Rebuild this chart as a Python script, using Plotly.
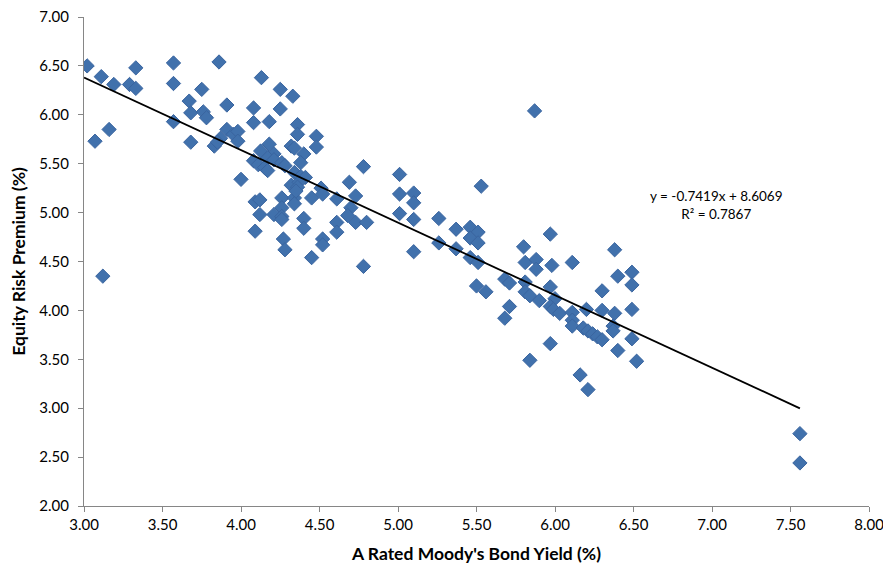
import plotly.graph_objects as go

# A Rated Moody's bond yield (%) and equity risk premium (%)
bond_yield = [
    3.02, 3.11, 3.19, 3.33, 3.29, 3.33, 3.07, 3.16, 3.12,
    3.57, 3.57, 3.57, 3.68, 3.67, 3.68, 3.75, 3.76, 3.78, 3.86, 3.91, 3.91, 3.95, 3.98, 3.98, 3.87, 3.83, 3.85, 4.00,
    4.08, 4.08, 4.13, 4.18, 4.25, 4.25, 4.33, 4.36, 4.36, 4.48, 4.48, 4.18, 4.32, 4.34, 4.125, 4.21, 4.40, 4.17, 4.21,
    4.38, 4.08, 4.11, 4.15, 4.17, 4.26, 4.28, 4.34, 4.38, 4.41, 4.32, 4.37, 4.36, 4.51,
    4.09, 4.12, 4.12, 4.09, 4.26, 4.26, 4.21, 4.26, 4.26, 4.34, 4.35, 4.34, 4.45, 4.52, 4.61, 4.40, 4.40, 4.61, 4.61,
    4.27, 4.28, 4.52, 4.52, 4.45,
    4.78, 4.69, 4.73, 4.70, 4.68, 4.73, 4.80, 5.01, 5.01, 5.01, 5.10, 5.10, 5.10, 5.10, 4.78,
    5.53, 5.26, 5.37, 5.46, 5.51, 5.46, 5.51, 5.26, 5.37, 5.46, 5.51, 5.50, 5.56,
    5.87, 5.80, 5.97, 5.81, 5.88, 5.88, 5.98, 6.11, 6.38, 6.40, 6.49, 6.49, 6.30, 5.68, 5.71, 5.81, 5.81, 5.84, 5.90,
    5.97, 6.00, 5.97, 5.99, 6.03, 5.71, 5.68, 6.11, 6.11, 6.11, 6.20, 6.30, 6.38, 6.49, 6.18, 6.21, 6.24, 6.27, 6.30,
    6.37, 6.37, 6.49, 6.40, 6.52, 5.97, 5.84, 6.16, 6.21,
    7.56, 7.56,
]
equity_premium = [
    6.50, 6.39, 6.31, 6.48, 6.31, 6.27, 5.73, 5.85, 4.35,
    6.53, 6.32, 5.93, 5.72, 6.14, 6.02, 6.26, 6.03, 5.97, 6.54, 6.10, 5.85, 5.80, 5.83, 5.73, 5.76, 5.68, 5.72, 5.34,
    6.07, 5.92, 6.38, 5.93, 6.26, 6.06, 6.19, 5.90, 5.80, 5.78, 5.67, 5.70, 5.68, 5.66, 5.63, 5.60, 5.60, 5.56, 5.54,
    5.51, 5.53, 5.49, 5.46, 5.43, 5.51, 5.48, 5.41, 5.37, 5.36, 5.28, 5.31, 5.26, 5.25,
    5.11, 5.13, 4.98, 4.81, 5.15, 5.05, 4.98, 4.96, 4.93, 5.15, 5.22, 5.09, 5.15, 5.19, 5.14, 4.94, 4.84, 4.90, 4.80,
    4.73, 4.62, 4.73, 4.67, 4.54,
    5.47, 5.31, 5.17, 5.05, 4.97, 4.90, 4.90, 5.39, 5.19, 4.99, 5.20, 5.10, 4.93, 4.60, 4.45,
    5.27, 4.94, 4.83, 4.85, 4.80, 4.74, 4.69, 4.69, 4.63, 4.54, 4.49, 4.25, 4.19,
    6.04, 4.65, 4.78, 4.49, 4.52, 4.42, 4.46, 4.49, 4.62, 4.35, 4.39, 4.26, 4.20, 4.32, 4.28, 4.29, 4.19, 4.15, 4.10,
    4.24, 4.12, 4.04, 4.01, 3.97, 4.04, 3.92, 3.98, 3.90, 3.84, 4.01, 4.00, 3.97, 4.01, 3.82, 3.79, 3.76, 3.73, 3.70,
    3.84, 3.79, 3.71, 3.59, 3.48, 3.66, 3.49, 3.34, 3.19,
    2.74, 2.44,
]

# Linear trendline as reported on the chart
slope = -0.7419
intercept = 8.6069
r_squared = 0.7867
trend_x = [3.0, 7.56]
trend_y = [slope * v + intercept for v in trend_x]

x_ticks = [3.0, 3.5, 4.0, 4.5, 5.0, 5.5, 6.0, 6.5, 7.0, 7.5, 8.0]
y_ticks = [2.0, 2.5, 3.0, 3.5, 4.0, 4.5, 5.0, 5.5, 6.0, 6.5, 7.0]

font_family = "Lato, 'Open Sans', sans-serif"

fig = go.Figure()
fig.add_trace(go.Scatter(
    x=bond_yield, y=equity_premium, mode="markers",
    marker=dict(symbol="diamond", size=11, color="#4171AC",
                line=dict(color="#3A65A0", width=1)),
    showlegend=False, hoverinfo="x+y",
))
fig.add_trace(go.Scatter(
    x=trend_x, y=trend_y, mode="lines",
    line=dict(color="black", width=1.8),
    showlegend=False, hoverinfo="skip",
))

fig.add_annotation(
    x=7.03, y=5.08, xref="x", yref="y",
    text=f"y = {slope}x + {intercept}<br>R² = {r_squared}",
    showarrow=False, align="center",
    font=dict(family=font_family, size=13.5, color="#000000"),
)

axis_common = dict(
    showgrid=False, zeroline=False, showline=True,
    linecolor="#868686", linewidth=1,
    ticks="outside", ticklen=5, tickcolor="#868686",
    tickfont=dict(family=font_family, size=15, color="#000000"),
    automargin=False,
    ticklabeloverflow="allow",
)

fig.update_xaxes(
    range=[3.0, 8.0], tickvals=x_ticks,
    ticktext=[f"{v:.2f}" for v in x_ticks],
    title=dict(text="<b>A Rated Moody's Bond Yield (%)</b>",
               font=dict(family=font_family, size=17.5, color="#000000"),
               standoff=15),
    **axis_common,
)
fig.update_yaxes(
    range=[2.0, 7.0], tickvals=y_ticks,
    ticktext=[f"{v:.2f}" for v in y_ticks],
    ticklabelstandoff=6,
    title=dict(text="<b>Equity Risk Premium (%)</b>",
               font=dict(family=font_family, size=17.5, color="#000000"),
               standoff=13),
    **axis_common,
)

fig.update_layout(
    width=891, height=571,
    margin=dict(l=76, r=30, t=9, b=73, autoexpand=False),
    plot_bgcolor="white", paper_bgcolor="white",
)

fig.write_html("out.html")
